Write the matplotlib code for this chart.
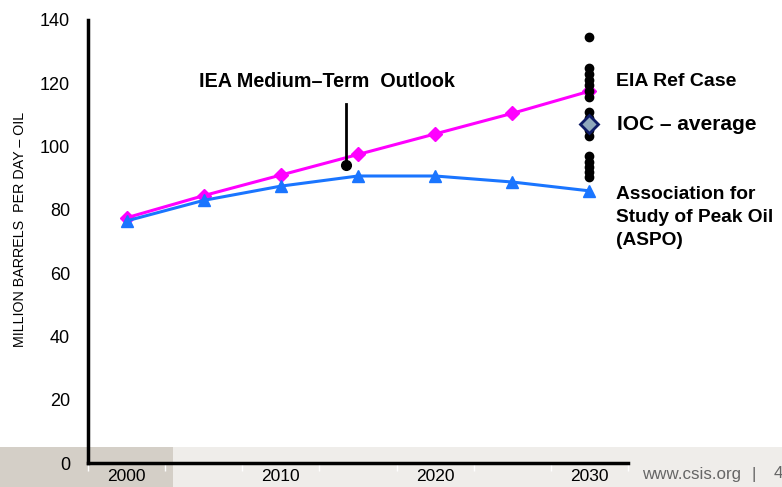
import matplotlib
matplotlib.use("Agg")
import matplotlib.pyplot as plt
from matplotlib.patches import Rectangle

plt.rcParams['font.family'] = ['Liberation Sans', 'DejaVu Sans']

# ---- data ----
years = [2000, 2005, 2010, 2015, 2020, 2025, 2030]
year_labels = ["2000", "", "2010", "", "2020", "", "2030"]
eia_ref = [77.5, 84.5, 91.0, 97.5, 104.0, 110.5, 117.5]
aspo = [76.5, 83.0, 87.5, 90.7, 90.7, 88.8, 86.0]
other_2030 = [134.7, 124.7, 122.8, 121.0, 119.5, 117.7, 115.8, 110.8, 108.9,
              107.1, 105.2, 103.4, 97.0, 95.2, 93.6, 92.1, 90.3]
ioc_average = 107.1
iea_year = 2014.2
iea_value = 94.2
yticks = [0, 20, 40, 60, 80, 100, 120, 140]

W, H = 782, 487
fig = plt.figure(figsize=(W / 100, H / 100), dpi=100)

# bottom decorative band
fig.patches.append(Rectangle((0, 0), 1, (H - 447) / H, transform=fig.transFigure,
                             facecolor='#efedea', edgecolor='none', zorder=-2))
fig.patches.append(Rectangle((0, 0), 173 / W, (H - 447) / H, transform=fig.transFigure,
                             facecolor='#d4cfc7', edgecolor='none', zorder=-1))

ax = fig.add_axes([88 / W, 1 - 463 / H, (628 - 88) / W, (463 - 20) / H])
ax.set_zorder(1)
ax.patch.set_alpha(0)

def xpos(y):
    return (y - years[0]) / 5.0

xs = [xpos(y) for y in years]

ax.plot(xs, eia_ref, color='#ff00ff', lw=2.2, marker='D', ms=7, zorder=3)
ax.plot(xs, aspo, color='#1a75ff', lw=2.2, marker='^', ms=9, zorder=3)

x2030 = xpos(2030)
ax.plot([x2030] * len(other_2030), other_2030, 'o', color='black', ms=6, zorder=4)
ax.plot([x2030], [ioc_average], 'D', color='#8ea7bd', mec='#0d1a66', mew=2, ms=9, zorder=5)

# IEA point with leader line
xi = xpos(iea_year)
ax.plot([xi, xi], [iea_value + 1.5, 113.5], color='black', lw=2, zorder=4)
ax.plot([xi], [iea_value], 'o', color='black', ms=7, zorder=4)

ax.set_xlim(-0.5, 6.5)
ax.set_ylim(0, 140)
ax.set_yticks(yticks)
ax.set_yticklabels([str(v) for v in yticks], fontsize=13)
ax.set_xticks([i + 0.5 for i in range(-1, 7)], minor=False)
ax.set_xticklabels([])
ax.set_xticks(xs, minor=True)
ax.set_xticklabels(year_labels, minor=True, fontsize=12.5)
ax.tick_params(axis='x', which='major', direction='out', length=6, color='white', width=1)
ax.tick_params(axis='x', which='minor', length=0, pad=4)
ax.tick_params(axis='y', direction='in', length=4, color='white', pad=13)
for s in ['top', 'right']:
    ax.spines[s].set_visible(False)
for s in ['left', 'bottom']:
    ax.spines[s].set_linewidth(2.5)
    ax.spines[s].set_color('black')
ax.spines['bottom'].set_zorder(6)

ax.set_ylabel("MILLION BARRELS  PER DAY – OIL", fontsize=10.3, labelpad=10)
ax.yaxis.set_label_coords(-0.113, 0.527)

# annotations
ax.text(xpos(2013.0), 120.5, "IEA Medium–Term  Outlook", fontsize=14.2, fontweight='bold',
        ha='center', va='center')
fig.text(616 / W, 1 - 81 / H, "EIA Ref Case", fontsize=14, fontweight='bold',
         ha='left', va='center')
fig.text(617 / W, 1 - 125 / H, "IOC – average", fontsize=15, fontweight='bold',
         ha='left', va='center')
fig.text(616 / W, 1 - 186 / H, "Association for\nStudy of Peak Oil\n(ASPO)", fontsize=13.8,
         fontweight='bold', ha='left', va='top', linespacing=1.45)

fig.text(642 / W, 1 - 474 / H, "www.csis.org", fontsize=12.2, color='#666666',
         ha='left', va='center')
fig.text(754 / W, 1 - 474 / H, "|", fontsize=12.2, color='#666666',
         ha='center', va='center')
fig.text(774 / W, 1 - 474 / H, "4", fontsize=12.2, color='#666666',
         ha='left', va='center')

fig.savefig("out.png", dpi=100)
